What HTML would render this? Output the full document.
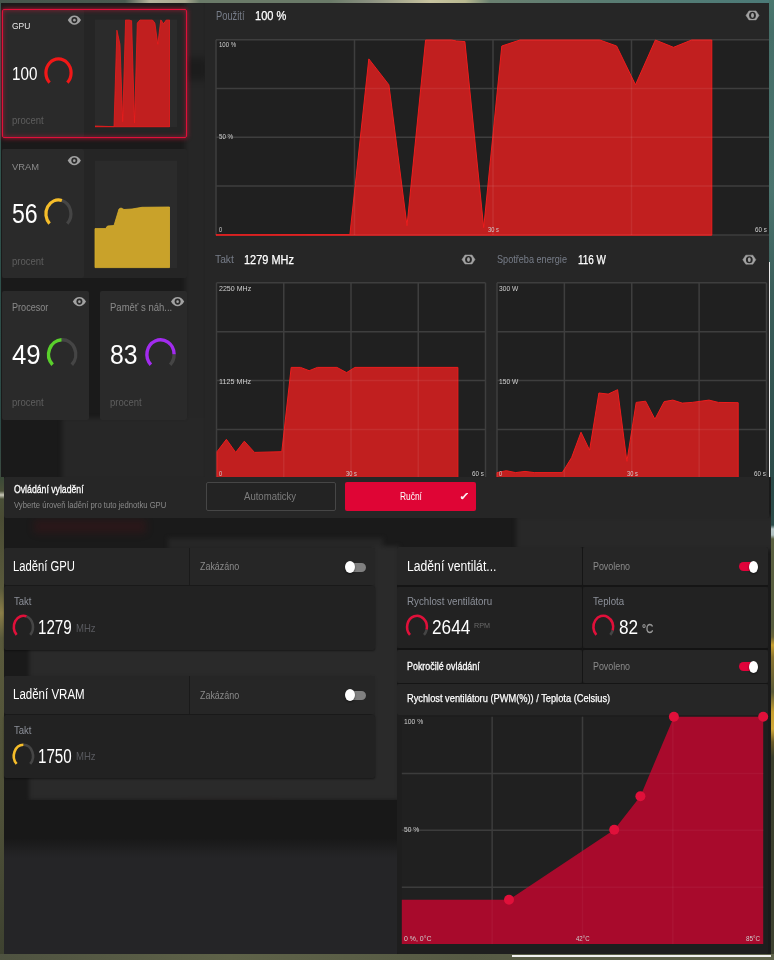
<!DOCTYPE html>
<html lang="cs">
<head>
<meta charset="utf-8">
<title>Radeon – Ladění</title>
<style>
*{box-sizing:border-box;margin:0;padding:0}
html,body{width:774px;height:960px;overflow:hidden;background:#1c1c1c}
body{position:relative;font-family:"Liberation Sans", sans-serif;color:#fff}
.abs{position:absolute}
.t{position:absolute;white-space:nowrap;transform-origin:0 0;line-height:1}
.card{position:absolute;background:#262626;border-radius:2px}
svg{position:absolute;left:0;top:0;overflow:visible}
#root{position:absolute;left:0;top:0;width:774px;height:960px;filter:blur(.4px)}
</style>
</head>
<body>
<div id="root">
<!-- wallpaper -->
<div class="abs" id="wp" style="left:-8px;top:-8px;width:790px;height:976px;background:linear-gradient(180deg,#3a5a52 0,#2f524c 208px,#2c4a46 438px,#4a4a3a 528px,#2a2a22 708px,#3a3a2a 976px)"></div>
<div class="abs" style="left:-8px;top:-8px;width:790px;height:12px;background:linear-gradient(90deg,#46564c 0,#4a5a50 133px,#b4b49c 158px,#a8a890 193px,#6a7a68 208px,#6a7a68 338px,#8a9080 378px,#c8c4a0 438px,#b8b890 473px,#6a8070 498px,#5a7c72 608px,#4a7a78 790px)"></div>
<div class="abs" style="left:-8px;top:953px;width:790px;height:15px;background:linear-gradient(90deg,#4e5240,#5e6248 30%,#565a44 60%,#60644c)"></div>
<div class="abs" style="left:770px;top:477px;width:12px;height:477px;background:linear-gradient(180deg,#2a4a48 0,#2c4c4a 48px,#b8c8c8 52px,#b0c0c0 58px,#5a6040 62px,#565c3e 150px,#6a6438 160px,#c8a030 168px,#8a7430 180px,#5a5a38 215px,#c8a030 235px,#d0a838 252px,#6a5a28 265px,#3a3e2c 280px,#3e4230 477px)"></div>
<div class="abs" style="left:511.5px;top:955px;width:259px;height:1.6px;background:#f0f0f0"></div>
<!-- dark blurred backdrop -->
<div class="abs" id="bd" style="left:1.2px;top:3px;width:769.7px;height:951px;background:#1a1a1a;overflow:hidden">
 <div class="abs" style="left:-1.2px;top:-3px;width:774px;height:960px;filter:blur(2px)">
  <div class="abs" style="left:185px;top:0;width:22px;height:478px;background:#262626"></div>
  <div class="abs" style="left:185px;top:58px;width:22px;height:22px;background:#1c1c1c;filter:blur(3px)"></div>
  <div class="abs" style="left:62px;top:418px;width:145px;height:62px;background:#272727"></div>
  <div class="abs" style="left:168px;top:538px;width:215px;height:12px;background:#262626"></div>
  <div class="abs" style="left:516px;top:516px;width:260px;height:34px;background:#282828"></div>
  <div class="abs" style="left:29px;top:646px;width:370px;height:32px;background:#2a2a2a"></div>
  <div class="abs" style="left:29px;top:776px;width:370px;height:24px;background:#2a2a2a"></div>
  <div class="abs" style="left:373px;top:546px;width:26px;height:254px;background:#2a2a2a"></div>
  <div class="abs" style="left:34px;top:520px;width:112px;height:13px;background:rgba(110,10,20,.2);filter:blur(3px)"></div>
  <div class="abs" style="left:185px;top:806px;width:90px;height:20px;background:rgba(110,10,20,.2);filter:blur(5px)"></div>
 </div>
 <div class="abs" style="left:0;top:797px;width:396px;height:50px;background:#181818"></div>
 <div class="abs" style="left:0;top:835px;width:396px;height:20px;background:linear-gradient(180deg,rgba(37,37,39,0),#252527)"></div>
 <div class="abs" style="left:0;top:855px;width:396px;height:96px;background:#252527"></div>
</div>

<div class="abs" style="left:-8px;top:477px;width:11.6px;height:477px;background:linear-gradient(180deg,#3a4a38 0,#4a5038 14px,#c8c8b8 18px,#4a5038 22px,#4a4c34 41px,#5a5a3c 111px,#8a7e48 136px,#5a5a3c 161px,#4e5038 341px,#3e4230 477px)"></div>
<div class="abs" style="left:769.1px;top:-8px;width:13px;height:485px;background:linear-gradient(180deg,#4a7a70 0,#456e68 40px,#4a746e 200px,#3a5e5a 300px,#2c4c4a 477px)"></div>
<div class="abs" style="left:769.1px;top:262px;width:1.4px;height:215px;background:#ececec"></div>
<!-- LEFT CARDS -->
<div class="card" style="left:2px;top:9px;width:185px;height:129px;background:#252525"></div>
<div class="card" style="left:2px;top:9px;width:82px;height:129px;background:#2a2a2a"></div>
<div class="card" style="left:2px;top:9px;width:185px;height:129px;background:none;border:1.5px solid #e0103a;box-shadow:0 0 5px rgba(230,20,60,.8), inset 0 0 5px rgba(230,20,60,.55)"></div>
<div class="card" style="left:2px;top:149px;width:185px;height:129px;background:#252525"></div>
<div class="card" style="left:2px;top:149px;width:82px;height:129px;background:#2a2a2a"></div>
<div class="card" style="left:2px;top:290.5px;width:87px;height:129px;background:#2a2a2a"></div>
<div class="card" style="left:100.3px;top:290.5px;width:86.5px;height:129px;background:#2a2a2a"></div>
<svg width="774" height="960" viewBox="0 0 774 960"><rect x="95" y="19.5" width="82" height="107.5" fill="#2b2b2b"/><clipPath id="mc"><rect x="95" y="19.5" width="82" height="108"/></clipPath><g clip-path="url(#mc)"><path d="M95.0,127.0L95.0,126.0L114.0,126.7L116.9,30.2L120.0,44.4L122.7,121.7L125.6,19.8L129.5,19.8L130.3,20.3L131.6,20.7L134.5,122.9L137.3,23.1L140.1,19.8L152.3,19.8L154.9,23.1L157.8,44.4L160.8,19.8L163.6,23.8L166.4,19.8L169.5,19.8L169.5,127.0Z" fill="#c11f1f" stroke="#ee1c1c" stroke-width="0.8" stroke-linejoin="round"/></g><rect x="95" y="160.7" width="82" height="107.5" fill="#2b2b2b"/><path d="M95.0,267.6L95.0,228.6L105.6,228.6L107.5,226.0L114.0,225.5L119.0,209.0L121.0,208.0L124.0,209.5L132.0,209.0L142.0,207.3L169.5,207.0L169.5,267.6Z" fill="#c9a22a" stroke="#d8ae2c" stroke-width="0.8" stroke-linejoin="round"/></svg>

<!-- MAIN PANEL -->
<div class="abs" id="main" style="left:205px;top:3px;width:564.3px;height:476px;background:#262626;overflow:hidden">
<svg width="774" height="960" viewBox="0 0 774 960" style="left:-205px;top:-3px"><rect x="216" y="39.8" width="554" height="195.10000000000002" fill="#202020"/><line x1="216.00" y1="39.8" x2="216.00" y2="234.9" stroke="#3e3e3e" stroke-width="1.5" opacity="1"/><line x1="354.50" y1="39.8" x2="354.50" y2="234.9" stroke="#3e3e3e" stroke-width="1.5" opacity="1"/><line x1="493.00" y1="39.8" x2="493.00" y2="234.9" stroke="#3e3e3e" stroke-width="1.5" opacity="1"/><line x1="631.50" y1="39.8" x2="631.50" y2="234.9" stroke="#3e3e3e" stroke-width="1.5" opacity="1"/><line x1="770.00" y1="39.8" x2="770.00" y2="234.9" stroke="#3e3e3e" stroke-width="1.5" opacity="1"/><line x1="216" y1="39.80" x2="770" y2="39.80" stroke="#3e3e3e" stroke-width="1.5" opacity="1"/><line x1="216" y1="88.58" x2="770" y2="88.58" stroke="#3e3e3e" stroke-width="1.5" opacity="1"/><line x1="216" y1="137.35" x2="770" y2="137.35" stroke="#3e3e3e" stroke-width="1.5" opacity="1"/><line x1="216" y1="186.12" x2="770" y2="186.12" stroke="#3e3e3e" stroke-width="1.5" opacity="1"/><line x1="216" y1="234.90" x2="770" y2="234.90" stroke="#3e3e3e" stroke-width="1.5" opacity="1"/><path d="M216.0,235.2L216.0,234.7L349.9,234.6L368.8,58.9L388.9,84.8L407.0,225.6L425.6,40.0L451.4,40.0L456.6,41.0L464.9,41.6L483.7,227.7L501.8,46.0L520.0,40.0L599.8,40.0L616.6,46.0L635.5,84.8L655.4,40.0L673.5,47.3L691.6,40.0L711.8,40.0L711.8,235.2Z" fill="#c11f1f" stroke="#ee1c1c" stroke-width="1" stroke-linejoin="round"/><clipPath id="cu"><path d="M216.0,235.2L216.0,234.7L349.9,234.6L368.8,58.9L388.9,84.8L407.0,225.6L425.6,40.0L451.4,40.0L456.6,41.0L464.9,41.6L483.7,227.7L501.8,46.0L520.0,40.0L599.8,40.0L616.6,46.0L635.5,84.8L655.4,40.0L673.5,47.3L691.6,40.0L711.8,40.0L711.8,235.2Z"/></clipPath><g clip-path="url(#cu)"><line x1="216.00" y1="39.8" x2="216.00" y2="234.9" stroke="#ffffff" stroke-width="1.5" opacity="0.07"/><line x1="354.50" y1="39.8" x2="354.50" y2="234.9" stroke="#ffffff" stroke-width="1.5" opacity="0.07"/><line x1="493.00" y1="39.8" x2="493.00" y2="234.9" stroke="#ffffff" stroke-width="1.5" opacity="0.07"/><line x1="631.50" y1="39.8" x2="631.50" y2="234.9" stroke="#ffffff" stroke-width="1.5" opacity="0.07"/><line x1="770.00" y1="39.8" x2="770.00" y2="234.9" stroke="#ffffff" stroke-width="1.5" opacity="0.07"/><line x1="216" y1="39.80" x2="770" y2="39.80" stroke="#ffffff" stroke-width="1.5" opacity="0.07"/><line x1="216" y1="88.58" x2="770" y2="88.58" stroke="#ffffff" stroke-width="1.5" opacity="0.07"/><line x1="216" y1="137.35" x2="770" y2="137.35" stroke="#ffffff" stroke-width="1.5" opacity="0.07"/><line x1="216" y1="186.12" x2="770" y2="186.12" stroke="#ffffff" stroke-width="1.5" opacity="0.07"/><line x1="216" y1="234.90" x2="770" y2="234.90" stroke="#ffffff" stroke-width="1.5" opacity="0.07"/></g><rect x="216.5" y="282.8" width="269.0" height="195.59999999999997" fill="#202020"/><line x1="216.50" y1="282.8" x2="216.50" y2="478.4" stroke="#3e3e3e" stroke-width="1.5" opacity="1"/><line x1="283.75" y1="282.8" x2="283.75" y2="478.4" stroke="#3e3e3e" stroke-width="1.5" opacity="1"/><line x1="351.00" y1="282.8" x2="351.00" y2="478.4" stroke="#3e3e3e" stroke-width="1.5" opacity="1"/><line x1="418.25" y1="282.8" x2="418.25" y2="478.4" stroke="#3e3e3e" stroke-width="1.5" opacity="1"/><line x1="485.50" y1="282.8" x2="485.50" y2="478.4" stroke="#3e3e3e" stroke-width="1.5" opacity="1"/><line x1="216.5" y1="282.80" x2="485.5" y2="282.80" stroke="#3e3e3e" stroke-width="1.5" opacity="1"/><line x1="216.5" y1="331.70" x2="485.5" y2="331.70" stroke="#3e3e3e" stroke-width="1.5" opacity="1"/><line x1="216.5" y1="380.60" x2="485.5" y2="380.60" stroke="#3e3e3e" stroke-width="1.5" opacity="1"/><line x1="216.5" y1="429.50" x2="485.5" y2="429.50" stroke="#3e3e3e" stroke-width="1.5" opacity="1"/><line x1="216.5" y1="478.40" x2="485.5" y2="478.40" stroke="#3e3e3e" stroke-width="1.5" opacity="1"/><path d="M217.0,478.0L217.0,451.7L226.4,439.3L235.7,452.4L244.3,441.2L254.5,452.4L281.8,451.7L291.2,367.4L300.5,367.4L309.2,370.7L317.4,367.4L336.9,367.4L346.6,372.6L354.9,367.4L457.9,367.4L457.9,478.0Z" fill="#c11f1f" stroke="#ee1c1c" stroke-width="1" stroke-linejoin="round"/><clipPath id="ct"><path d="M217.0,478.0L217.0,451.7L226.4,439.3L235.7,452.4L244.3,441.2L254.5,452.4L281.8,451.7L291.2,367.4L300.5,367.4L309.2,370.7L317.4,367.4L336.9,367.4L346.6,372.6L354.9,367.4L457.9,367.4L457.9,478.0Z"/></clipPath><g clip-path="url(#ct)"><line x1="216.50" y1="282.8" x2="216.50" y2="478.4" stroke="#ffffff" stroke-width="1.5" opacity="0.07"/><line x1="283.75" y1="282.8" x2="283.75" y2="478.4" stroke="#ffffff" stroke-width="1.5" opacity="0.07"/><line x1="351.00" y1="282.8" x2="351.00" y2="478.4" stroke="#ffffff" stroke-width="1.5" opacity="0.07"/><line x1="418.25" y1="282.8" x2="418.25" y2="478.4" stroke="#ffffff" stroke-width="1.5" opacity="0.07"/><line x1="485.50" y1="282.8" x2="485.50" y2="478.4" stroke="#ffffff" stroke-width="1.5" opacity="0.07"/><line x1="216.5" y1="282.80" x2="485.5" y2="282.80" stroke="#ffffff" stroke-width="1.5" opacity="0.07"/><line x1="216.5" y1="331.70" x2="485.5" y2="331.70" stroke="#ffffff" stroke-width="1.5" opacity="0.07"/><line x1="216.5" y1="380.60" x2="485.5" y2="380.60" stroke="#ffffff" stroke-width="1.5" opacity="0.07"/><line x1="216.5" y1="429.50" x2="485.5" y2="429.50" stroke="#ffffff" stroke-width="1.5" opacity="0.07"/><line x1="216.5" y1="478.40" x2="485.5" y2="478.40" stroke="#ffffff" stroke-width="1.5" opacity="0.07"/></g><rect x="497" y="282.8" width="269.5" height="195.59999999999997" fill="#202020"/><line x1="497.00" y1="282.8" x2="497.00" y2="478.4" stroke="#3e3e3e" stroke-width="1.5" opacity="1"/><line x1="564.38" y1="282.8" x2="564.38" y2="478.4" stroke="#3e3e3e" stroke-width="1.5" opacity="1"/><line x1="631.75" y1="282.8" x2="631.75" y2="478.4" stroke="#3e3e3e" stroke-width="1.5" opacity="1"/><line x1="699.12" y1="282.8" x2="699.12" y2="478.4" stroke="#3e3e3e" stroke-width="1.5" opacity="1"/><line x1="766.50" y1="282.8" x2="766.50" y2="478.4" stroke="#3e3e3e" stroke-width="1.5" opacity="1"/><line x1="497" y1="282.80" x2="766.5" y2="282.80" stroke="#3e3e3e" stroke-width="1.5" opacity="1"/><line x1="497" y1="331.70" x2="766.5" y2="331.70" stroke="#3e3e3e" stroke-width="1.5" opacity="1"/><line x1="497" y1="380.60" x2="766.5" y2="380.60" stroke="#3e3e3e" stroke-width="1.5" opacity="1"/><line x1="497" y1="429.50" x2="766.5" y2="429.50" stroke="#3e3e3e" stroke-width="1.5" opacity="1"/><line x1="497" y1="478.40" x2="766.5" y2="478.40" stroke="#3e3e3e" stroke-width="1.5" opacity="1"/><path d="M497.0,478.0L497.0,472.6L506.3,470.7L515.6,472.6L525.0,471.4L534.3,472.6L562.3,472.6L571.6,457.6L581.0,432.2L589.6,450.2L598.9,393.0L608.2,394.1L617.6,389.7L626.9,461.4L636.2,402.4L645.6,401.2L654.9,419.2L664.2,401.6L672.8,400.1L682.2,403.1L692.2,402.4L709.0,400.1L718.4,402.4L738.2,402.7L738.2,478.0Z" fill="#c11f1f" stroke="#ee1c1c" stroke-width="1" stroke-linejoin="round"/><clipPath id="cp"><path d="M497.0,478.0L497.0,472.6L506.3,470.7L515.6,472.6L525.0,471.4L534.3,472.6L562.3,472.6L571.6,457.6L581.0,432.2L589.6,450.2L598.9,393.0L608.2,394.1L617.6,389.7L626.9,461.4L636.2,402.4L645.6,401.2L654.9,419.2L664.2,401.6L672.8,400.1L682.2,403.1L692.2,402.4L709.0,400.1L718.4,402.4L738.2,402.7L738.2,478.0Z"/></clipPath><g clip-path="url(#cp)"><line x1="497.00" y1="282.8" x2="497.00" y2="478.4" stroke="#ffffff" stroke-width="1.5" opacity="0.07"/><line x1="564.38" y1="282.8" x2="564.38" y2="478.4" stroke="#ffffff" stroke-width="1.5" opacity="0.07"/><line x1="631.75" y1="282.8" x2="631.75" y2="478.4" stroke="#ffffff" stroke-width="1.5" opacity="0.07"/><line x1="699.12" y1="282.8" x2="699.12" y2="478.4" stroke="#ffffff" stroke-width="1.5" opacity="0.07"/><line x1="766.50" y1="282.8" x2="766.50" y2="478.4" stroke="#ffffff" stroke-width="1.5" opacity="0.07"/><line x1="497" y1="282.80" x2="766.5" y2="282.80" stroke="#ffffff" stroke-width="1.5" opacity="0.07"/><line x1="497" y1="331.70" x2="766.5" y2="331.70" stroke="#ffffff" stroke-width="1.5" opacity="0.07"/><line x1="497" y1="380.60" x2="766.5" y2="380.60" stroke="#ffffff" stroke-width="1.5" opacity="0.07"/><line x1="497" y1="429.50" x2="766.5" y2="429.50" stroke="#ffffff" stroke-width="1.5" opacity="0.07"/><line x1="497" y1="478.40" x2="766.5" y2="478.40" stroke="#ffffff" stroke-width="1.5" opacity="0.07"/></g></svg>
</div>

<!-- CONTROL BAR -->
<div class="abs" id="ctl" style="left:4px;top:477px;width:765.3px;height:41px;background:#262626;border-radius:2px"></div>
<div class="abs" style="left:205.7px;top:482.2px;width:130.5px;height:28.6px;border:1px solid #464646;border-radius:2px;background:#232323"></div>
<div class="abs" style="left:345.2px;top:482.2px;width:130.6px;height:28.6px;border-radius:2px;background:#df0535"></div>

<!-- BOTTOM LEFT -->
<div class="card" style="left:4px;top:547.6px;width:371.3px;height:37.7px;background:#262626"></div>
<div class="abs" style="left:189px;top:547.6px;width:1px;height:37.7px;background:#1a1a1a"></div>
<div class="card" style="left:4px;top:586.3px;width:371.3px;height:63.5px;background:#222222;box-shadow:0 1px 2px rgba(0,0,0,.4)"></div>
<div class="card" style="left:4px;top:676px;width:371.3px;height:37.8px;background:#262626"></div>
<div class="abs" style="left:189px;top:676px;width:1px;height:37.8px;background:#1a1a1a"></div>
<div class="card" style="left:4px;top:714.8px;width:371.3px;height:63.6px;background:#222222;box-shadow:0 1px 2px rgba(0,0,0,.4)"></div>
<div class="abs" style="left:349px;top:562.5px;width:17px;height:9px;border-radius:3px 5px 5px 3px;background:#808080"></div><div class="abs" style="left:345.1px;top:560.9px;width:10.2px;height:12.2px;border-radius:50%;background:#fff;box-shadow:0 1px 2px rgba(0,0,0,.5)"></div>
<div class="abs" style="left:349px;top:690.8px;width:17px;height:9px;border-radius:3px 5px 5px 3px;background:#808080"></div><div class="abs" style="left:345.1px;top:689.1999999999999px;width:10.2px;height:12.2px;border-radius:50%;background:#fff;box-shadow:0 1px 2px rgba(0,0,0,.5)"></div>

<!-- BOTTOM RIGHT -->
<div class="card" style="left:396.5px;top:547.4px;width:371.8px;height:406.4px;background:#1e1e1e"></div>
<div class="card" style="left:396.5px;top:547.4px;width:185.5px;height:38.2px;background:#262626"></div>
<div class="card" style="left:583px;top:547.4px;width:185.3px;height:38.2px;background:#262626"></div>
<div class="card" style="left:396.5px;top:586.6px;width:185.5px;height:61.6px;background:#222222"></div>
<div class="card" style="left:583px;top:586.6px;width:185.3px;height:61.6px;background:#222222"></div>
<div class="card" style="left:396.5px;top:650px;width:185.5px;height:33px;background:#262626"></div>
<div class="card" style="left:583px;top:650px;width:185.3px;height:33px;background:#262626"></div>
<div class="card" style="left:396.5px;top:684px;width:371.8px;height:31px;background:#262626"></div>
<div class="abs" style="left:396.5px;top:585.4px;width:371.8px;height:1.4px;background:#151515"></div>
<div class="abs" style="left:396.5px;top:648.2px;width:371.8px;height:1.9px;background:#131313"></div>
<div class="abs" style="left:396.5px;top:683px;width:371.8px;height:1.2px;background:#151515"></div>
<div class="abs" style="left:582px;top:547.4px;width:1.2px;height:136px;background:#151515"></div>
<svg width="774" height="960" viewBox="0 0 774 960"><rect x="401.8" y="716.7" width="361.40000000000003" height="227.29999999999995" fill="#202020"/><line x1="492.15" y1="716.7" x2="492.15" y2="944" stroke="#3c3c3c" stroke-width="1.5" opacity="1"/><line x1="582.50" y1="716.7" x2="582.50" y2="944" stroke="#3c3c3c" stroke-width="1.5" opacity="1"/><line x1="672.85" y1="716.7" x2="672.85" y2="944" stroke="#3c3c3c" stroke-width="1.5" opacity="1"/><line x1="401.8" y1="773.53" x2="763.2" y2="773.53" stroke="#3c3c3c" stroke-width="1.5" opacity="1"/><line x1="401.8" y1="830.35" x2="763.2" y2="830.35" stroke="#3c3c3c" stroke-width="1.5" opacity="1"/><line x1="401.8" y1="887.17" x2="763.2" y2="887.17" stroke="#3c3c3c" stroke-width="1.5" opacity="1"/><path d="M401.8,944.0L401.8,899.8L509.0,899.8L614.2,829.8L640.4,796.3L673.9,716.7L763.2,716.7L763.2,944.0Z" fill="#a80a2c"/><clipPath id="cf"><path d="M401.8,944.0L401.8,899.8L509.0,899.8L614.2,829.8L640.4,796.3L673.9,716.7L763.2,716.7L763.2,944.0Z"/></clipPath><g clip-path="url(#cf)"><line x1="492.15" y1="716.7" x2="492.15" y2="944" stroke="#ffffff" stroke-width="1.5" opacity="0.04"/><line x1="582.50" y1="716.7" x2="582.50" y2="944" stroke="#ffffff" stroke-width="1.5" opacity="0.04"/><line x1="672.85" y1="716.7" x2="672.85" y2="944" stroke="#ffffff" stroke-width="1.5" opacity="0.04"/><line x1="401.8" y1="773.53" x2="763.2" y2="773.53" stroke="#ffffff" stroke-width="1.5" opacity="0.04"/><line x1="401.8" y1="830.35" x2="763.2" y2="830.35" stroke="#ffffff" stroke-width="1.5" opacity="0.04"/><line x1="401.8" y1="887.17" x2="763.2" y2="887.17" stroke="#ffffff" stroke-width="1.5" opacity="0.04"/></g><circle cx="509" cy="899.8" r="5" fill="#e0103a"/><circle cx="614.2" cy="829.8" r="5" fill="#e0103a"/><circle cx="640.4" cy="796.3" r="5" fill="#e0103a"/><circle cx="673.9" cy="716.7" r="5" fill="#e0103a"/><circle cx="763.2" cy="716.7" r="5" fill="#e0103a"/></svg>
<div class="abs" style="left:739px;top:562.3px;width:16px;height:9px;border-radius:4.5px;background:#e0033a"></div><div class="abs" style="left:749.2px;top:560.6999999999999px;width:9.2px;height:12.2px;border-radius:50%;background:#fff;box-shadow:0 1px 2px rgba(0,0,0,.5)"></div>
<div class="abs" style="left:739px;top:662.3px;width:16px;height:9px;border-radius:4.5px;background:#e0033a"></div><div class="abs" style="left:749.2px;top:660.6999999999999px;width:9.2px;height:12.2px;border-radius:50%;background:#fff;box-shadow:0 1px 2px rgba(0,0,0,.5)"></div>

<svg width="774" height="960" viewBox="0 0 774 960"><path d="M49.59,82.63A12.6,13.9 0 1 1 67.41,82.63" fill="none" stroke="#f01818" stroke-width="3.2"/><path d="M61.89,200.45A12.5,13.9 0 0 1 67.24,223.63" fill="none" stroke="#454545" stroke-width="3.2"/><path d="M49.56,223.63A12.5,13.9 0 0 1 61.89,200.45" fill="none" stroke="#f5bd2a" stroke-width="3.2"/><path d="M61.56,339.82A13.6,14.6 0 0 1 71.82,364.72" fill="none" stroke="#454545" stroke-width="3.4"/><path d="M52.58,364.72A13.6,14.6 0 0 1 61.56,339.82" fill="none" stroke="#5ad02c" stroke-width="3.4"/><path d="M174.10,354.17A13.6,14.6 0 0 1 170.12,364.72" fill="none" stroke="#454545" stroke-width="3.4"/><path d="M150.88,364.72A13.6,14.6 0 1 1 174.10,354.17" fill="none" stroke="#a22bef" stroke-width="3.4"/><g transform="translate(74.4,20.1)"><path d="M-6.6,0 C-4.6,-3.3 -2.6,-4.7 0,-4.7 C2.6,-4.7 4.6,-3.3 6.6,0 C4.6,3.3 2.6,4.7 0,4.7 C-2.6,4.7 -4.6,3.3 -6.6,0Z" fill="#a2a2a2"/><ellipse rx="3.0" ry="3.1" fill="#2a2a2a"/><ellipse cx="0" cy="0.1" rx="1.3" ry="1.4" fill="#a2a2a2"/></g><g transform="translate(74.3,160.6)"><path d="M-6.6,0 C-4.6,-3.3 -2.6,-4.7 0,-4.7 C2.6,-4.7 4.6,-3.3 6.6,0 C4.6,3.3 2.6,4.7 0,4.7 C-2.6,4.7 -4.6,3.3 -6.6,0Z" fill="#a2a2a2"/><ellipse rx="3.0" ry="3.1" fill="#2a2a2a"/><ellipse cx="0" cy="0.1" rx="1.3" ry="1.4" fill="#a2a2a2"/></g><g transform="translate(79.4,301.6)"><path d="M-6.6,0 C-4.6,-3.3 -2.6,-4.7 0,-4.7 C2.6,-4.7 4.6,-3.3 6.6,0 C4.6,3.3 2.6,4.7 0,4.7 C-2.6,4.7 -4.6,3.3 -6.6,0Z" fill="#a2a2a2"/><ellipse rx="3.0" ry="3.1" fill="#2a2a2a"/><ellipse cx="0" cy="0.1" rx="1.3" ry="1.4" fill="#a2a2a2"/></g><g transform="translate(177.6,301.6)"><path d="M-6.6,0 C-4.6,-3.3 -2.6,-4.7 0,-4.7 C2.6,-4.7 4.6,-3.3 6.6,0 C4.6,3.3 2.6,4.7 0,4.7 C-2.6,4.7 -4.6,3.3 -6.6,0Z" fill="#a2a2a2"/><ellipse rx="3.0" ry="3.1" fill="#2a2a2a"/><ellipse cx="0" cy="0.1" rx="1.3" ry="1.4" fill="#a2a2a2"/></g><g transform="translate(752.5,15.4)"><path d="M-6.5,0 L-3.5,-4.5 L3.5,-4.5 L6.5,0 L3.5,4.5 L-3.5,4.5Z" fill="#a2a2a2" stroke="#a2a2a2" stroke-width="0.5" stroke-linejoin="round"/><ellipse rx="3.4" ry="3.55" fill="#272727"/><ellipse rx="1.45" ry="2.3" fill="#a2a2a2"/></g><g transform="translate(468.5,259.5)"><path d="M-6.5,0 L-3.5,-4.5 L3.5,-4.5 L6.5,0 L3.5,4.5 L-3.5,4.5Z" fill="#a2a2a2" stroke="#a2a2a2" stroke-width="0.5" stroke-linejoin="round"/><ellipse rx="3.4" ry="3.55" fill="#272727"/><ellipse rx="1.45" ry="2.3" fill="#a2a2a2"/></g><g transform="translate(749.3,259.7)"><path d="M-6.5,0 L-3.5,-4.5 L3.5,-4.5 L6.5,0 L3.5,4.5 L-3.5,4.5Z" fill="#a2a2a2" stroke="#a2a2a2" stroke-width="0.5" stroke-linejoin="round"/><ellipse rx="3.4" ry="3.55" fill="#272727"/><ellipse rx="1.45" ry="2.3" fill="#a2a2a2"/></g><path d="M26.51,616.40A9.6,11.2 0 0 1 30.19,634.92" fill="none" stroke="#454545" stroke-width="2.6"/><path d="M16.61,634.92A9.6,11.2 0 0 1 26.51,616.40" fill="none" stroke="#e0103a" stroke-width="2.6"/><path d="M23.40,744.80A9.6,11.2 0 0 1 30.19,763.92" fill="none" stroke="#454545" stroke-width="2.6"/><path d="M16.61,763.92A9.6,11.2 0 0 1 23.40,744.80" fill="none" stroke="#f5bd2a" stroke-width="2.6"/><path d="M426.66,629.44A9.9,11.2 0 0 1 424.00,634.92" fill="none" stroke="#454545" stroke-width="2.6"/><path d="M410.00,634.92A9.9,11.2 0 1 1 426.66,629.44" fill="none" stroke="#e0103a" stroke-width="2.6"/><path d="M612.72,630.46A9.9,11.2 0 0 1 610.30,634.92" fill="none" stroke="#454545" stroke-width="2.6"/><path d="M596.30,634.92A9.9,11.2 0 1 1 612.72,630.46" fill="none" stroke="#e0103a" stroke-width="2.6"/></svg>
<span class="t" style="left:12.00px;top:20.87px;font-size:9.6px;color:#e8e8e8;transform:scaleX(0.8820)">GPU</span>
<span class="t" style="left:11.75px;top:65.53px;font-size:17.8px;color:#fff;transform:scaleX(0.8548)">100</span>
<span class="t" style="left:12.00px;top:115.31px;font-size:10.5px;color:#5e5e5e;transform:scaleX(0.9059)">procent</span>
<span class="t" style="left:12.00px;top:161.87px;font-size:9.6px;color:#8a8a8a;transform:scaleX(0.9738)">VRAM</span>
<span class="t" style="left:12.14px;top:200.74px;font-size:27px;color:#fff;transform:scaleX(0.8566)">56</span>
<span class="t" style="left:12.00px;top:256.31px;font-size:10.5px;color:#5e5e5e;transform:scaleX(0.9059)">procent</span>
<span class="t" style="left:12.00px;top:302.54px;font-size:10px;color:#8a8a8a;transform:scaleX(0.9094)">Procesor</span>
<span class="t" style="left:12.30px;top:341.54px;font-size:27px;color:#fff;transform:scaleX(0.9546)">49</span>
<span class="t" style="left:12.00px;top:397.41px;font-size:10.5px;color:#5e5e5e;transform:scaleX(0.9059)">procent</span>
<span class="t" style="left:110.30px;top:302.54px;font-size:10px;color:#8a8a8a;transform:scaleX(0.9510)">Paměť s náh...</span>
<span class="t" style="left:110.38px;top:341.54px;font-size:27px;color:#fff;transform:scaleX(0.9173)">83</span>
<span class="t" style="left:110.30px;top:397.41px;font-size:10.5px;color:#5e5e5e;transform:scaleX(0.9030)">procent</span>
<span class="t" style="left:216.00px;top:9.64px;font-size:12px;color:#777d89;transform:scaleX(0.7764)">Použití</span>
<span class="t" style="left:255.30px;top:9.64px;font-size:12px;color:#fff;transform:scaleX(0.9227);-webkit-text-stroke:0.25px #fff">100 %</span>
<span class="t" style="left:215.00px;top:254.21px;font-size:11.8px;color:#777d89;transform:scaleX(0.8722)">Takt</span>
<span class="t" style="left:243.60px;top:254.04px;font-size:12px;color:#fff;transform:scaleX(0.9124);-webkit-text-stroke:0.25px #fff">1279 MHz</span>
<span class="t" style="left:496.70px;top:254.21px;font-size:11.8px;color:#777d89;transform:scaleX(0.7730)">Spotřeba energie</span>
<span class="t" style="left:578.00px;top:254.04px;font-size:12px;color:#fff;transform:scaleX(0.8269);-webkit-text-stroke:0.25px #fff">116 W</span>
<span class="t" style="left:218.60px;top:40.65px;font-size:7.5px;color:#cfcfcf;transform:scaleX(0.8057)">100 %</span>
<span class="t" style="left:218.60px;top:133.15px;font-size:7.5px;color:#cfcfcf;transform:scaleX(0.8264)">50 %</span>
<span class="t" style="left:218.60px;top:225.65px;font-size:7.5px;color:#cfcfcf;transform:scaleX(0.7500)">0</span>
<span class="t" style="left:488.00px;top:225.65px;font-size:7.5px;color:#cfcfcf;transform:scaleX(0.7625)">30 s</span>
<span class="t" style="left:755.00px;top:225.65px;font-size:7.5px;color:#cfcfcf;transform:scaleX(0.8318)">60 s</span>
<span class="t" style="left:218.60px;top:284.65px;font-size:7.5px;color:#cfcfcf;transform:scaleX(0.9410)">2250 MHz</span>
<span class="t" style="left:218.60px;top:377.65px;font-size:7.5px;color:#cfcfcf;transform:scaleX(0.9564)">1125 MHz</span>
<span class="t" style="left:218.60px;top:469.65px;font-size:7.5px;color:#cfcfcf;transform:scaleX(0.7500)">0</span>
<span class="t" style="left:346.00px;top:469.65px;font-size:7.5px;color:#cfcfcf;transform:scaleX(0.7625)">30 s</span>
<span class="t" style="left:472.00px;top:469.65px;font-size:7.5px;color:#cfcfcf;transform:scaleX(0.8318)">60 s</span>
<span class="t" style="left:499.00px;top:284.65px;font-size:7.5px;color:#cfcfcf;transform:scaleX(0.8851)">300 W</span>
<span class="t" style="left:499.00px;top:377.65px;font-size:7.5px;color:#cfcfcf;transform:scaleX(0.8851)">150 W</span>
<span class="t" style="left:499.00px;top:469.65px;font-size:7.5px;color:#cfcfcf;transform:scaleX(0.7500)">0</span>
<span class="t" style="left:627.00px;top:469.65px;font-size:7.5px;color:#cfcfcf;transform:scaleX(0.7625)">30 s</span>
<span class="t" style="left:754.00px;top:469.65px;font-size:7.5px;color:#cfcfcf;transform:scaleX(0.8318)">60 s</span>
<span class="t" style="left:13.70px;top:483.92px;font-size:11.2px;color:#fff;transform:scaleX(0.7773);-webkit-text-stroke:0.3px #fff">Ovládání vyladění</span>
<span class="t" style="left:13.70px;top:499.56px;font-size:9.5px;color:#8a8a8a;transform:scaleX(0.8042)">Vyberte úroveň ladění pro tuto jednotku GPU</span>
<span class="t" style="left:244.40px;top:491.11px;font-size:10.5px;color:#7d7d7d;transform:scaleX(0.9113)">Automaticky</span>
<span class="t" style="left:400.00px;top:491.11px;font-size:10.5px;color:#fff;transform:scaleX(0.7997)">Ruční</span>
<span class="t" style="left:458.80px;top:491.41px;font-size:10.5px;color:#fff;transform:scaleX(1.2000);-webkit-text-stroke:0.4px #fff">✓</span>
<span class="t" style="left:12.78px;top:559.62px;font-size:13.8px;color:#fff;transform:scaleX(0.8166)">Ladění GPU</span>
<span class="t" style="left:200.00px;top:561.11px;font-size:10.5px;color:#8a8a8a;transform:scaleX(0.8493)">Zakázáno</span>
<span class="t" style="left:13.60px;top:596.41px;font-size:10.5px;color:#8c9099;transform:scaleX(0.9100)">Takt</span>
<span class="t" style="left:38.06px;top:617.45px;font-size:20.5px;color:#fff;transform:scaleX(0.7398)">1279</span>
<span class="t" style="left:75.80px;top:622.51px;font-size:10.5px;color:#58595e;transform:scaleX(0.9095)">MHz</span>
<span class="t" style="left:12.77px;top:688.32px;font-size:13.8px;color:#fff;transform:scaleX(0.8341)">Ladění VRAM</span>
<span class="t" style="left:200.00px;top:689.81px;font-size:10.5px;color:#8a8a8a;transform:scaleX(0.8493)">Zakázáno</span>
<span class="t" style="left:13.60px;top:725.11px;font-size:10.5px;color:#8c9099;transform:scaleX(0.9100)">Takt</span>
<span class="t" style="left:38.06px;top:746.15px;font-size:20.5px;color:#fff;transform:scaleX(0.7398)">1750</span>
<span class="t" style="left:75.80px;top:751.21px;font-size:10.5px;color:#58595e;transform:scaleX(0.9095)">MHz</span>
<span class="t" style="left:406.52px;top:559.62px;font-size:13.8px;color:#fff;transform:scaleX(0.8832)">Ladění ventilát...</span>
<span class="t" style="left:593.40px;top:561.11px;font-size:10.5px;color:#8a8a8a;transform:scaleX(0.8465)">Povoleno</span>
<span class="t" style="left:407.40px;top:596.41px;font-size:10.5px;color:#8c9099;transform:scaleX(0.9294)">Rychlost ventilátoru</span>
<span class="t" style="left:432.16px;top:617.45px;font-size:20.5px;color:#fff;transform:scaleX(0.8416)">2644</span>
<span class="t" style="left:474.00px;top:621.65px;font-size:7.5px;color:#6a6a6a;transform:scaleX(0.9623)">RPM</span>
<span class="t" style="left:593.40px;top:596.41px;font-size:10.5px;color:#8c9099;transform:scaleX(0.9201)">Teplota</span>
<span class="t" style="left:618.90px;top:617.45px;font-size:20.5px;color:#fff;transform:scaleX(0.8392)">82</span>
<span class="t" style="left:641.60px;top:623.24px;font-size:12px;color:#9c9c9c;transform:scaleX(0.8407);-webkit-text-stroke:0.3px #9c9c9c">°C</span>
<span class="t" style="left:407.40px;top:660.72px;font-size:11.2px;color:#fff;transform:scaleX(0.7952);-webkit-text-stroke:0.3px #fff">Pokročilé ovládání</span>
<span class="t" style="left:593.40px;top:661.11px;font-size:10.5px;color:#8a8a8a;transform:scaleX(0.8465)">Povoleno</span>
<span class="t" style="left:406.50px;top:693.29px;font-size:11px;color:#fff;transform:scaleX(0.8422);-webkit-text-stroke:0.25px #fff">Rychlost ventilátoru (PWM(%)) / Teplota (Celsius)</span>
<span class="t" style="left:403.50px;top:717.95px;font-size:7.5px;color:#cfcfcf;transform:scaleX(0.9029)">100 %</span>
<span class="t" style="left:403.50px;top:826.05px;font-size:7.5px;color:#cfcfcf;transform:scaleX(0.8895)">50 %</span>
<span class="t" style="left:403.50px;top:934.85px;font-size:7.5px;color:#cfcfcf;transform:scaleX(0.9286)">0 %, 0°C</span>
<span class="t" style="left:576.00px;top:934.85px;font-size:7.5px;color:#cfcfcf;transform:scaleX(0.8073)">42°C</span>
<span class="t" style="left:746.40px;top:934.85px;font-size:7.5px;color:#cfcfcf;transform:scaleX(0.8419)">85°C</span>
</div>
</body>
</html>
